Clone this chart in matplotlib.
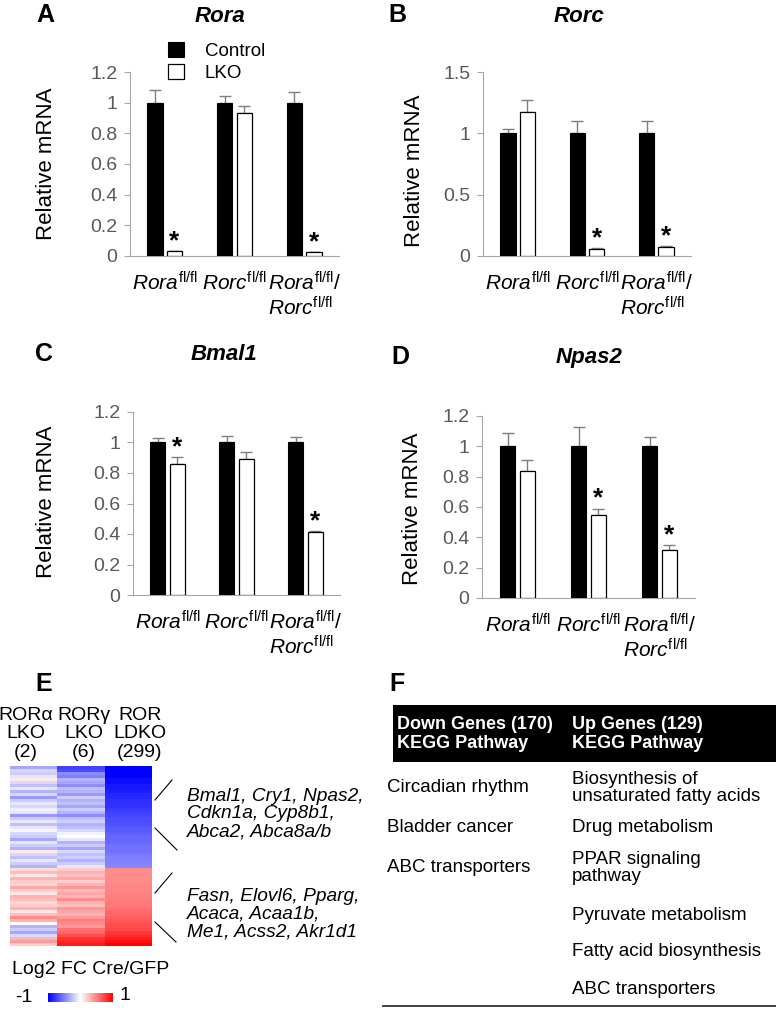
import matplotlib
matplotlib.use("Agg")
import matplotlib.pyplot as plt
import numpy as np
from matplotlib.patches import Rectangle

plt.rcParams["font.family"] = ["Liberation Sans", "DejaVu Sans"]
plt.rcParams["mathtext.fontset"] = "custom"
plt.rcParams["mathtext.rm"] = "Liberation Sans"
plt.rcParams["mathtext.it"] = "Liberation Sans:italic"
plt.rcParams["mathtext.bf"] = "Liberation Sans:bold"

W, H = 776, 1010

# ---- data: qPCR panels (A-D) ----
groups = [
    r"$\mathit{Rora}^{\mathrm{fl/fl}}$",
    r"$\mathit{Rorc}^{\mathrm{fl/fl}}$",
    r"$\mathit{Rora}^{\mathrm{fl/fl}}\mathit{/}$" + "\n" + r"$\mathit{Rorc}^{\mathrm{fl/fl}}$",
]

rora_ctrl = [1.0, 1.0, 1.0]
rora_ctrl_err = [0.08, 0.045, 0.07]
rora_lko = [0.03, 0.93, 0.025]
rora_lko_err = [0.004, 0.05, 0.003]
rora_star = [True, False, True]

rorc_ctrl = [1.0, 1.0, 1.0]
rorc_ctrl_err = [0.035, 0.1, 0.1]
rorc_lko = [1.17, 0.06, 0.07]
rorc_lko_err = [0.1, 0.005, 0.01]
rorc_star = [False, True, True]

bmal1_ctrl = [1.0, 1.0, 1.0]
bmal1_ctrl_err = [0.03, 0.04, 0.035]
bmal1_lko = [0.86, 0.895, 0.415]
bmal1_lko_err = [0.045, 0.045, 0.004]
bmal1_star = [True, False, True]

npas2_ctrl = [1.0, 1.0, 1.0]
npas2_ctrl_err = [0.085, 0.125, 0.06]
npas2_lko = [0.84, 0.545, 0.315]
npas2_lko_err = [0.07, 0.045, 0.035]
npas2_star = [False, True, True]

ticks_12 = [0, 0.2, 0.4, 0.6, 0.8, 1.0, 1.2]
ticklabels_12 = ["0", "0.2", "0.4", "0.6", "0.8", "1", "1.2"]
ticks_15 = [0, 0.5, 1.0, 1.5]
ticklabels_15 = ["0", "0.5", "1", "1.5"]

# ---- data: heatmap (E), log2 FC Cre/GFP, rows binned, down genes then up genes ----
hm_columns = ["ROR\u03b1\nLKO\n(2)", "ROR\u03b3\nLKO\n(6)", "ROR\nLDKO\n(299)"]
ror_a_lko = [-0.35, -0.15, -0.2, -0.1, 0.08, -0.15, -0.25, -0.1, -0.3, -0.15,
             -0.4, -0.2, -0.1, -0.15, -0.05, -0.1, -0.4, -0.2, -0.1, -0.25,
             -0.1, 0.05, -0.15, -0.2, -0.35, -0.1, -0.2, -0.3, 0.08, -0.15,
             -0.25, -0.1, -0.2, -0.3,
             0.15, 0.25, 0.1, 0.3, 0.2, 0.15, 0.35, 0.2, 0.1, 0.3,
             0.25, 0.15, 0.2, 0.3, 0.1, 0.25, 0.45, 0.3, 0.0, -0.3,
             -0.2, -0.35, -0.15, 0.3, 0.4, 0.2]
ror_g_lko = [-0.75, -0.7, -0.45, -0.5, -0.3, -0.35, -0.45, -0.25, -0.3, -0.4,
             -0.2, -0.3, -0.25, -0.35, -0.2, -0.3, -0.45, -0.25, -0.2, -0.3,
             -0.25, -0.15, -0.05, 0.0, -0.1, -0.3, -0.2, -0.35, -0.15, -0.25,
             -0.2, -0.3, -0.2, -0.1,
             0.2, 0.3, 0.25, 0.35, 0.2, 0.3, 0.4, 0.25, 0.35, 0.3,
             0.45, 0.3, 0.25, 0.4, 0.35, 0.3, 0.4, 0.5, 0.45, 0.4,
             0.55, 0.6, 0.7, 0.8, 0.85, 0.9]
ror_ldko = [-1.0, -1.0, -1.0, -1.0, -0.95, -0.95, -0.9, -0.9, -0.88, -0.85,
            -0.85, -0.82, -0.8, -0.8, -0.78, -0.75, -0.72, -0.7, -0.7, -0.68,
            -0.65, -0.65, -0.62, -0.6, -0.6, -0.58, -0.55, -0.55, -0.55, -0.52,
            -0.5, -0.5, -0.48, -0.47,
            0.45, 0.45, 0.45, 0.46, 0.46, 0.47, 0.47, 0.48, 0.48, 0.5,
            0.5, 0.52, 0.52, 0.55, 0.58, 0.6, 0.62, 0.65, 0.68, 0.7,
            0.72, 0.78, 0.82, 0.88, 0.95, 1.0]

down_genes = "Bmal1, Cry1, Npas2,\nCdkn1a, Cyp8b1,\nAbca2, Abca8a/b"
up_genes = "Fasn, Elovl6, Pparg,\nAcaca, Acaa1b,\nMe1, Acss2, Akr1d1"

# ---- data: KEGG table (F) ----
table_header = ["Down Genes (170)\nKEGG Pathway", "Up Genes (129)\nKEGG Pathway"]
down_pathways = ["Circadian rhythm", "Bladder cancer", "ABC transporters"]
up_pathways = ["Biosynthesis of\nunsaturated fatty acids", "Drug metabolism",
               "PPAR signaling\npathway", "Pyruvate metabolism",
               "Fatty acid biosynthesis", "ABC transporters"]

TICK_GRAY = "#595959"
AXIS_GRAY = "#a6a6a6"
ERR_GRAY = "#7f7f7f"
WIDTH = 0.22
OFF = 0.14


def fbox(x0, y0, x1, y1):
    """Pixel box (top-left origin) -> figure fraction rect."""
    return [x0 / W, 1 - y1 / H, (x1 - x0) / W, (y1 - y0) / H]


def fxy(x, y):
    return x / W, 1 - y / H


fig = plt.figure(figsize=(W / 100, H / 100), dpi=100)

# overlay for labels, table and annotation strokes (pixel coords)
ov = fig.add_axes([0, 0, 1, 1])
ov.set_xlim(0, W)
ov.set_ylim(H, 0)
ov.axis("off")


def bar_panel(box, ymax, yticks, yticklabels, ctrl, ctrl_err, lko, lko_err, stars):
    ax = fig.add_axes(fbox(*box))
    x = np.arange(len(groups))
    b1 = ax.bar(x - OFF, ctrl, WIDTH, color="black", edgecolor="black", lw=0.8, zorder=3)
    b2 = ax.bar(x + OFF, lko, WIDTH, color="white", edgecolor="black", lw=0.9, zorder=3)
    ax.errorbar(x - OFF, ctrl, yerr=[np.zeros(3), ctrl_err], fmt="none",
                ecolor=ERR_GRAY, elinewidth=1, capsize=4, capthick=1, zorder=2)
    ax.errorbar(x + OFF, lko, yerr=[np.zeros(3), lko_err], fmt="none",
                ecolor=ERR_GRAY, elinewidth=1, capsize=4, capthick=1, zorder=2)
    for xi, v, e, s in zip(x, lko, lko_err, stars):
        if s:
            ax.annotate("*", xy=(xi + OFF, v + e), xytext=(0, 2), textcoords="offset points",
                        ha="center", va="baseline", fontsize=19, fontweight="bold")
    ax.set_xlim(-0.5, 2.5)
    ax.set_ylim(0, ymax)
    ax.set_yticks(yticks, yticklabels)
    ax.set_xticks(x, groups)
    for lab in ax.get_xticklabels():
        lab.set_linespacing(1.12)
    ax.get_xticklabels()[2].set_multialignment("left")
    ax.tick_params(axis="y", length=4, width=0.8, color=AXIS_GRAY, labelcolor=TICK_GRAY,
                   labelsize=14, pad=5)
    ax.tick_params(axis="x", length=0, labelsize=15, pad=11)
    for side in ["top", "right"]:
        ax.spines[side].set_visible(False)
    for side in ["left", "bottom"]:
        ax.spines[side].set_color(AXIS_GRAY)
        ax.spines[side].set_linewidth(0.8)
    ax.patch.set_alpha(0)
    return ax, b1, b2


panels = [
    ((130, 72, 339, 256), 1.2, ticks_12, ticklabels_12, rora_ctrl, rora_ctrl_err, rora_lko, rora_lko_err, rora_star),
    ((483, 72, 691, 256), 1.5, ticks_15, ticklabels_15, rorc_ctrl, rorc_ctrl_err, rorc_lko, rorc_lko_err, rorc_star),
    ((133, 412, 340, 595), 1.2, ticks_12, ticklabels_12, bmal1_ctrl, bmal1_ctrl_err, bmal1_lko, bmal1_lko_err, bmal1_star),
    ((482, 416, 695, 598), 1.2, ticks_12, ticklabels_12, npas2_ctrl, npas2_ctrl_err, npas2_lko, npas2_lko_err, npas2_star),
]
titles = ["Rora", "Rorc", "Bmal1", "Npas2"]
title_pos = [(220, 16), (579, 16), (224, 354), (589, 357)]
letter_pos = [(45, 15), (397, 15), (44, 354), (400, 357)]
ylabel_pos = [(47, 164), (415, 171), (47, 502), (412, 509)]

axes = []
for p in panels:
    axes.append(bar_panel(*p))

for t, (tx, ty), l, (lx, ly), (yx, yy) in zip(titles, title_pos, "ABCD", letter_pos, ylabel_pos):
    ov.text(tx, ty, t, ha="center", va="center", fontsize=16, fontweight="bold", fontstyle="italic")
    ov.text(lx, ly, l, ha="center", va="center", fontsize=18, fontweight="bold")
    ov.text(yx, yy, "Relative mRNA", ha="center", va="center", rotation=90, fontsize=16)

ax_a, b_ctrl, b_lko = axes[0]
ax_a.legend([b_ctrl, b_lko], ["Control", "LKO"], frameon=False, loc="upper left",
            bbox_to_anchor=fxy(168, 42), bbox_transform=fig.transFigure,
            fontsize=13.5, handlelength=0.85, handleheight=0.85, labelspacing=0.2,
            handletextpad=1.1, borderpad=0, borderaxespad=0)

# ---- panel E: heatmap ----
hm = np.column_stack([ror_a_lko, ror_g_lko, ror_ldko])
ax_e = fig.add_axes(fbox(10, 766, 152, 946))
im = ax_e.imshow(hm, cmap="bwr", vmin=-1, vmax=1, aspect="auto", interpolation="nearest")
ax_e.axis("off")

ov.text(44, 684, "E", ha="center", va="center", fontsize=18, fontweight="bold")
for label, cx in zip(hm_columns, [26, 84, 140]):
    ov.text(cx, 734, label, ha="center", va="center", fontsize=14, linespacing=1.08)

ov.plot([155, 172], [800, 780], color="black", lw=0.8)
ov.plot([155, 177], [828, 850], color="black", lw=0.8)
ov.plot([155, 172], [893, 873], color="black", lw=0.8)
ov.plot([155, 176], [922, 942], color="black", lw=0.8)
ov.text(187, 814, down_genes, ha="left", va="center", fontsize=13.8, fontstyle="italic", linespacing=1.05)
ov.text(187, 914, up_genes, ha="left", va="center", fontsize=13.8, fontstyle="italic", linespacing=1.05)

ov.text(12, 970, "Log2 FC Cre/GFP", ha="left", va="center", fontsize=14)
cax = fig.add_axes(fbox(48, 993, 113, 1002))
cb = fig.colorbar(im, cax=cax, orientation="horizontal")
cb.outline.set_visible(False)
cb.set_ticks([])
ov.text(24, 998, "-1", ha="center", va="center", fontsize=14)
ov.text(125, 996, "1", ha="center", va="center", fontsize=14)

# ---- panel F: KEGG table ----
ov.text(397, 684, "F", ha="center", va="center", fontsize=18, fontweight="bold")
ov.add_patch(Rectangle((393, 705), W - 393, 57, color="black", lw=0))
ov.text(397, 734, table_header[0], ha="left", va="center", fontsize=13,
        fontweight="bold", color="white", linespacing=1.1)
ov.text(572, 734, table_header[1], ha="left", va="center", fontsize=13,
        fontweight="bold", color="white", linespacing=1.1)
for txt, y in zip(down_pathways, [788, 827, 867]):
    ov.text(387, y, txt, ha="left", va="center", fontsize=13.5)
for txt, y in zip(up_pathways, [788, 827, 868, 915, 951, 989]):
    ov.text(572, y, txt, ha="left", va="center", fontsize=13.5, linespacing=1.05)
ov.plot([383, W], [1006, 1006], color="#333333", lw=1.3)

fig.savefig("out.png", dpi=100)
